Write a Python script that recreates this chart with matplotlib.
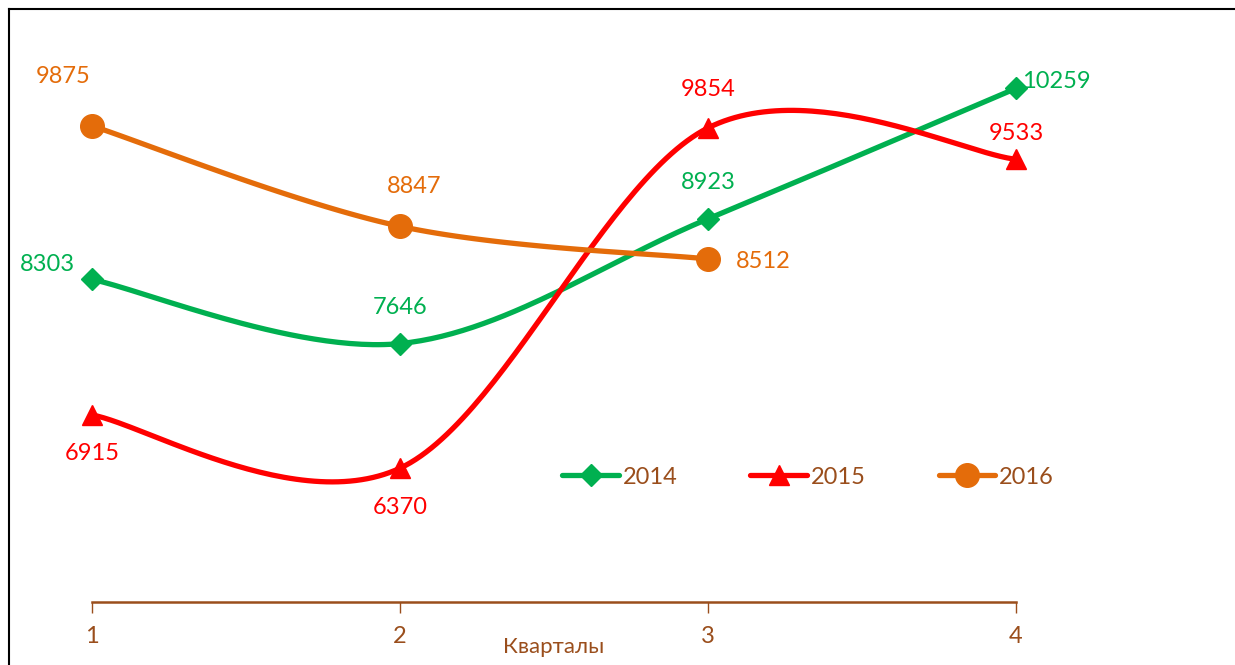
import numpy as np
import matplotlib
matplotlib.use("Agg")
import matplotlib.pyplot as plt
from matplotlib.lines import Line2D

plt.rcParams['font.family'] = ['Lato', 'DejaVu Sans']

quarters = [1, 2, 3, 4]
years = ["2014", "2015", "2016"]
v2014 = [8303, 7646, 8923, 10259]
v2015 = [6915, 6370, 9854, 9533]
v2016 = [9875, 8847, 8512]
x_title = "Кварталы"

colors = {"2014": "#00B050", "2015": "#FF0000", "2016": "#E46C0A"}
markers = {"2014": ("D", 11), "2015": ("^", 15), "2016": ("o", 17)}
brown = "#9A4E1C"

# label offsets in pixels (dx, dy) for each point
offsets = {
    "2014": [(-45, 15), (0, 36), (0, 36), (40, 7)],
    "2015": [(0, -39), (0, -39), (0, 38), (0, 26)],
    "2016": [(-29, 49), (14, 40), (55, -3)],
}

W, H = 1235, 665
fig = plt.figure(figsize=(W / 100, H / 100), dpi=100)
ax = fig.add_axes([92 / W, (H - 602) / H, (1016 - 92) / W, 586 / H])
ax.set_xlim(1, 4)
ax.set_ylim(5000, 11000)


def smooth(xs, ys, n=60):
    # Excel-like smoothing (Catmull-Rom Bezier) done in pixel space
    pts = ax.transData.transform(np.column_stack([xs, ys]))
    out = []
    k = len(pts)
    for i in range(k - 1):
        p0 = pts[max(i - 1, 0)]
        p1 = pts[i]
        p2 = pts[i + 1]
        p3 = pts[min(i + 2, k - 1)]
        c1 = p1 + (p2 - p0) / 6
        c2 = p2 - (p3 - p1) / 6
        t = np.linspace(0, 1, n)[:, None]
        seg = ((1 - t) ** 3 * p1 + 3 * (1 - t) ** 2 * t * c1
               + 3 * (1 - t) * t ** 2 * c2 + t ** 3 * p2)
        out.append(seg)
    out = np.vstack(out)
    return ax.transData.inverted().transform(out)


series = {"2014": v2014, "2015": v2015, "2016": v2016}
handles = []
for y in years:
    vals = series[y]
    xs = quarters[:len(vals)]
    c = colors[y]
    m, ms = markers[y]
    curve = smooth(xs, vals)
    ax.plot(curve[:, 0], curve[:, 1], color=c, lw=3.8, solid_capstyle='round',
            clip_on=False, zorder=2)
    ax.plot(xs, vals, ls='none', marker=m, ms=ms, color=c, clip_on=False, zorder=3)
    for (xx, vv), off in zip(zip(xs, vals), offsets[y]):
        ax.annotate(str(vv), (xx, vv), xytext=off, textcoords='offset pixels',
                    ha='center', va='center', color=c, fontsize=17,
                    annotation_clip=False)
    handles.append(Line2D([], [], color=c, lw=3.8, marker=m, ms=ms,
                          solid_capstyle='round'))

leg = ax.legend(handles, years, loc='center', bbox_to_anchor=(0.775, 0.213),
                ncol=3, frameon=False, fontsize=17, handlelength=2.4,
                handletextpad=0.15, columnspacing=3.1, labelcolor=brown)

for s in ['left', 'right', 'top']:
    ax.spines[s].set_visible(False)
ax.spines['bottom'].set_color(brown)
ax.spines['bottom'].set_linewidth(1.8)
ax.set_yticks([])
ax.set_xticks(quarters)
ax.tick_params(axis='x', colors=brown, direction='out', length=8, width=1,
               labelsize=17, pad=9)
ax.set_xlabel(x_title, color=brown, fontsize=16, labelpad=-7)

# outer frame
fig.add_artist(Line2D([9 / W, 9 / W], [0, 1 - 9 / H], color='black', lw=1.5,
                      transform=fig.transFigure))
fig.add_artist(Line2D([9 / W, 1], [1 - 9 / H, 1 - 9 / H], color='black', lw=1.5,
                      transform=fig.transFigure))

fig.savefig("out.png", dpi=100)
